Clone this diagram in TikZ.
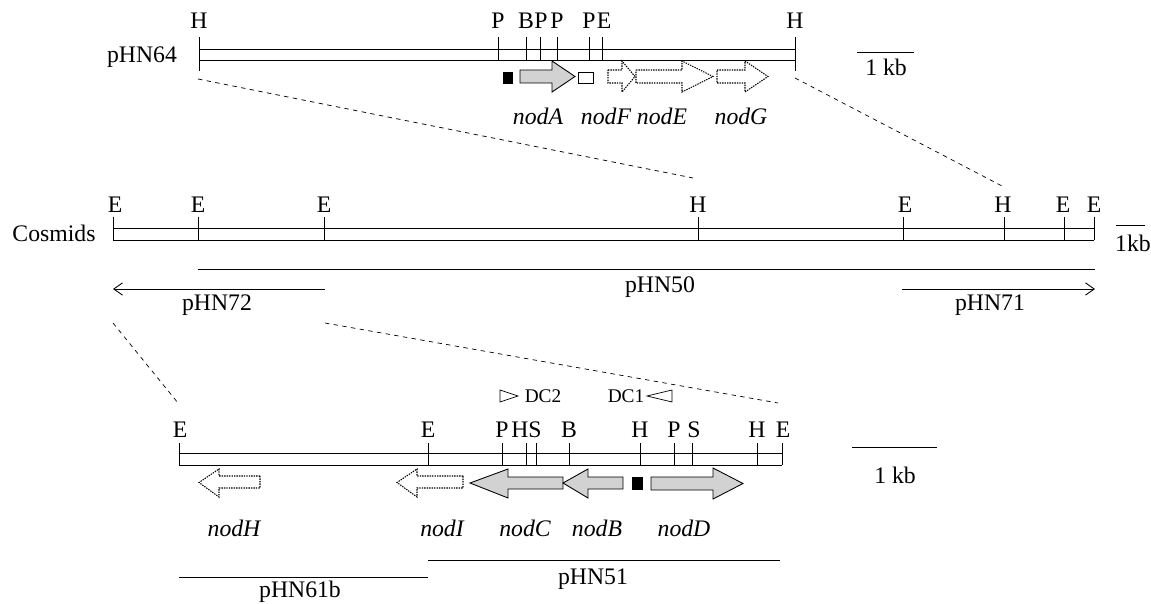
\documentclass[tikz,border=0pt]{standalone}
\usepackage{fontspec}
\setmainfont{Liberation Serif}
\usepackage{tikz}
\usetikzlibrary{arrows.meta}

\begin{document}
\begin{tikzpicture}[x=0.02cm,y=-0.02cm,
    font=\fontsize{13.5}{15}\selectfont,
    gene/.style={draw,fill=gray!35,line width=0.5pt},
    opengene/.style={draw,dash pattern=on 0.8pt off 0.6pt,fill=white,line width=0.6pt},
    zoomline/.style={dash pattern=on 2.5pt off 2.5pt,line width=0.4pt},
    genename/.style={font=\fontsize{13.5}{15}\selectfont\itshape},
    smalltext/.style={font=\fontsize{11}{13}\selectfont},
    clone/.style={line width=0.5pt,-{Straight Barb[length=5pt,width=7pt]}}]
    \useasboundingbox (0,0) rectangle (1151,604);

    % pHN64 map
    \node (p64) at (142,57) {pHN64};
    \draw (199,49) -- (795,49);
    \draw (199,60) -- (795,60);
    \draw (199,37) -- (199,71);
    \draw (795,37) -- (795,71);
    \draw (498,37) -- (498,60);
    \draw (526,37) -- (526,60);
    \draw (540,37) -- (540,60);
    \draw (557,37) -- (557,60);
    \draw (589,37) -- (589,60);
    \draw (602,37) -- (602,60);
    \node (t1) at (199,21) {H};
    \node (t2) at (498,21) {P};
    \node (t3) at (526,21) {B};
    \node (t4) at (541,21) {P};
    \node (t5) at (557,21) {P};
    \node (t6) at (589,21) {P};
    \node (t7) at (604,21) {E};
    \node (t8) at (795,21) {H};
    \fill (503,72) rectangle (513,84);
    \draw[gene] (520,70) -- (552,70) -- (552,61) -- (575,76.5) -- (552,92) -- (552,83) -- (520,83) -- cycle;
    \draw (578,72) rectangle (593,83);
    \draw[opengene] (608,70) -- (622,70) -- (622,61) -- (635,76.5) -- (622,92) -- (622,83) -- (608,83) -- cycle;
    \draw[opengene] (636,70) -- (682,70) -- (682,61) -- (713,76.5) -- (682,92) -- (682,83) -- (636,83) -- cycle;
    \draw[opengene] (717,70) -- (745,70) -- (745,61) -- (768,76.5) -- (745,92) -- (745,83) -- (717,83) -- cycle;
    \node[genename] (nodA) at (538,116) {nodA};
    \node[genename] (nodF) at (606,116) {nodF};
    \node[genename] (nodE) at (662,116) {nodE};
    \node[genename] (nodG) at (741,116) {nodG};
    \draw (857,52) -- (914,52);
    \node (kb1) at (886,67) {1 kb};

    % zoom lines to cosmids
    \coordinate (a1) at (198,79);
    \coordinate (a2) at (693,178);
    \coordinate (b1) at (795,78);
    \coordinate (b2) at (1002,186);
    \draw[zoomline] (a1) -- (a2);
    \draw[zoomline] (b1) -- (b2);

    % cosmid map
    \node (cos) at (54,233) {Cosmids};
    \draw (113,228) -- (1094,228);
    \draw (113,240) -- (1094,240);
    \draw (113,217) -- (113,240);
    \draw (198,217) -- (198,240);
    \draw (324,217) -- (324,240);
    \draw (698,217) -- (698,240);
    \draw (903,217) -- (903,240);
    \draw (1004,217) -- (1004,240);
    \draw (1064,217) -- (1064,240);
    \draw (1094,217) -- (1094,240);
    \node (c1) at (115,205) {E};
    \node (c2) at (198,205) {E};
    \node (c3) at (324,205) {E};
    \node (c4) at (698,205) {H};
    \node (c5) at (905,205) {E};
    \node (c6) at (1003,205) {H};
    \node (c7) at (1063,205) {E};
    \node (c8) at (1094,205) {E};
    \draw (1116,225) -- (1145,225);
    \node (kb2) at (1133,243) {1kb};
    \coordinate (l50a) at (198,269);
    \coordinate (l50b) at (1095,269);
    \draw[line width=0.5pt] (l50a) -- (l50b);
    \node (p50) at (660,287) {pHN50};
    \coordinate (l72a) at (325,289);
    \coordinate (l72b) at (113,289);
    \draw[clone] (l72a) -- (l72b);
    \node (p72) at (217,305) {pHN72};
    \coordinate (l71a) at (902,289);
    \coordinate (l71b) at (1095,289);
    \draw[clone] (l71a) -- (l71b);
    \node (p71) at (990,305) {pHN71};

    % zoom lines to nodABC region
    \coordinate (d1) at (113,323);
    \coordinate (d2) at (178,403);
    \coordinate (e1) at (325,323);
    \coordinate (e2) at (778,403);
    \draw[zoomline] (d1) -- (d2);
    \draw[zoomline] (e1) -- (e2);

    % nod region map
    \draw (500,390) -- (518,396) -- (500,402) -- cycle;
    \node[smalltext] (dc2) at (543,396) {DC2};
    \node[smalltext] (dc1) at (626,396) {DC1};
    \draw (672,390) -- (647,396) -- (672,402) -- cycle;
    \draw (179,453) -- (782,453);
    \draw (179,465) -- (782,465);
    \draw (179,443) -- (179,465);
    \draw (428,443) -- (428,465);
    \draw (502,443) -- (502,465);
    \draw (526,443) -- (526,465);
    \draw (536,443) -- (536,465);
    \draw (569,443) -- (569,465);
    \draw (640,443) -- (640,465);
    \draw (674,443) -- (674,465);
    \draw (692,443) -- (692,465);
    \draw (757,443) -- (757,465);
    \draw (782,443) -- (782,465);
    \node (r1) at (180,430) {E};
    \node (r2) at (428,430) {E};
    \node (r3) at (502,430) {P};
    \node (r4) at (520,430) {H};
    \node (r5) at (535,430) {S};
    \node (r6) at (569,430) {B};
    \node (r7) at (640,430) {H};
    \node (r8) at (674,430) {P};
    \node (r9) at (694,430) {S};
    \node (r10) at (757,430) {H};
    \node (r11) at (783,430) {E};
    \draw[opengene] (260,476) -- (219,476) -- (219,469) -- (199,482.5) -- (219,497) -- (219,488) -- (260,488) -- cycle;
    \draw[opengene] (463,476) -- (417,476) -- (417,469) -- (397,482.5) -- (417,497) -- (417,488) -- (463,488) -- cycle;
    \draw[gene] (563,477) -- (508,477) -- (508,469) -- (470,483) -- (508,498) -- (508,489) -- (563,489) -- cycle;
    \draw[gene] (623,477) -- (588,477) -- (588,469) -- (563,483) -- (588,498) -- (588,489) -- (623,489) -- cycle;
    \fill (632,477) rectangle (643,490);
    \draw[gene] (651,477) -- (713,477) -- (713,468) -- (743,483.5) -- (713,499) -- (713,490) -- (651,490) -- cycle;
    \node[genename] (nodH) at (234,528) {nodH};
    \node[genename] (nodI) at (442,528) {nodI};
    \node[genename] (nodC) at (525,528) {nodC};
    \node[genename] (nodB) at (597,528) {nodB};
    \node[genename] (nodD) at (684,528) {nodD};
    \draw (852,447) -- (937,447);
    \node (kb3) at (895,475) {1 kb};
    \coordinate (l51a) at (428,560);
    \coordinate (l51b) at (780,560);
    \draw[line width=0.5pt] (l51a) -- (l51b);
    \node (p51) at (593,579) {pHN51};
    \coordinate (l61a) at (179,577);
    \coordinate (l61b) at (428,577);
    \draw[line width=0.5pt] (l61a) -- (l61b);
    \node[inner sep=0pt] (p61) at (300,592) {pHN61b};
\end{tikzpicture}
\end{document}
